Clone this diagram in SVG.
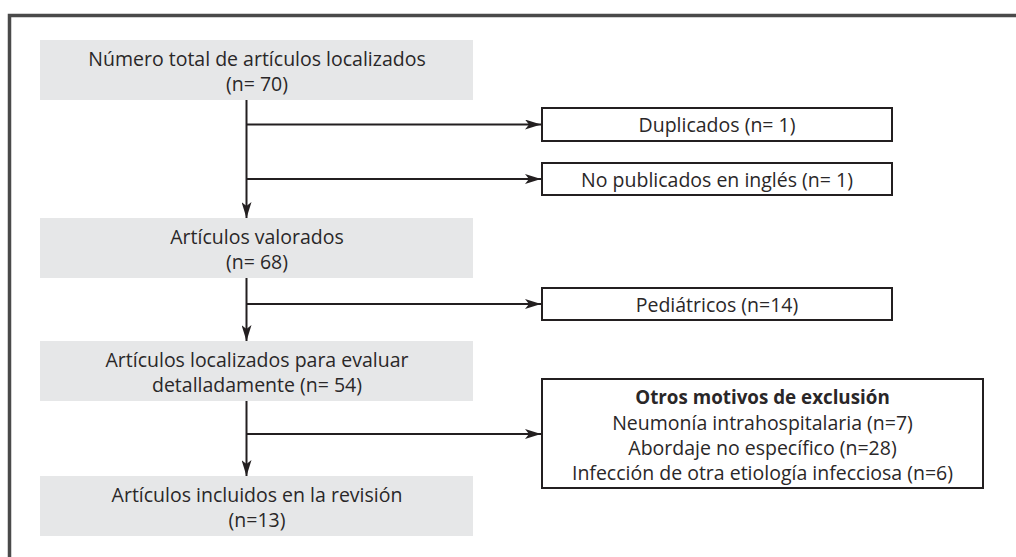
<svg xmlns="http://www.w3.org/2000/svg" width="1016" height="557" viewBox="0 0 1016 557">
<style>
text{font-family:"Open Sans","Liberation Sans",sans-serif;font-size:19.5px;fill:#2a2728;text-anchor:middle}
.b{font-weight:bold;font-size:18.8px}
.g{fill:#e6e7e8;stroke:none}
.w{fill:#fff;stroke:#231f20;stroke-width:2}
.c{stroke:#231f20;stroke-width:2;fill:none}
</style>
<defs>
<marker id="ah" viewBox="0 0 16 10" refX="16" refY="5" markerWidth="16" markerHeight="10" markerUnits="userSpaceOnUse" orient="auto">
<path d="M0,0 L16,5 L0,10 L4,5 Z" fill="#231f20"/>
</marker>
</defs>
<rect x="0" y="0" width="1016" height="557" fill="#fff"/>
<path d="M9.5,557 L9.5,15.5 L1016,15.5" fill="none" stroke="#4a4a4a" stroke-width="3.5"/>
<g id="connectors">
<line class="c" x1="246.5" y1="100" x2="246.5" y2="218" marker-end="url(#ah)"/>
<line class="c" x1="246.5" y1="124.5" x2="541" y2="124.5" marker-end="url(#ah)"/>
<line class="c" x1="246.5" y1="179" x2="541" y2="179" marker-end="url(#ah)"/>
<line class="c" x1="246.5" y1="278" x2="246.5" y2="341" marker-end="url(#ah)"/>
<line class="c" x1="246.5" y1="304" x2="541" y2="304" marker-end="url(#ah)"/>
<line class="c" x1="246.5" y1="401" x2="246.5" y2="476" marker-end="url(#ah)"/>
<line class="c" x1="246.5" y1="434" x2="541" y2="434" marker-end="url(#ah)"/>
</g>
<g id="n1"><rect class="g" x="40" y="40" width="433" height="60"/><text x="257" y="66">Número total de artículos localizados</text><text x="257" y="91">(n= 70)</text></g>
<g id="n2"><rect class="g" x="40" y="218" width="433" height="60"/><text x="257" y="244">Artículos valorados</text><text x="257" y="268.5">(n= 68)</text></g>
<g id="n3"><rect class="g" x="40" y="341" width="433" height="60"/><text x="257" y="367">Artículos localizados para evaluar</text><text x="257" y="392">detalladamente (n= 54)</text></g>
<g id="n4"><rect class="g" x="40" y="476" width="433" height="60"/><text x="257" y="502">Artículos incluidos en la revisión</text><text x="257" y="527">(n=13)</text></g>
<g id="e1"><rect class="w" x="542" y="108" width="350" height="33"/><text x="717" y="131.5">Duplicados (n= 1)</text></g>
<g id="e2"><rect class="w" x="542" y="163" width="350" height="32"/><text x="717" y="187">No publicados en inglés (n= 1)</text></g>
<g id="e3"><rect class="w" x="542" y="288" width="350" height="32"/><text x="717" y="311.5">Pediátricos (n=14)</text></g>
<g id="e4"><rect class="w" x="542" y="379" width="441" height="109"/><text class="b" x="762.5" y="404">Otros motivos de exclusión</text><text x="762.5" y="429.5">Neumonía intrahospitalaria (n=7)</text><text x="762.5" y="455">Abordaje no específico (n=28)</text><text x="762.5" y="480">Infección de otra etiología infecciosa (n=6)</text></g>
</svg>
